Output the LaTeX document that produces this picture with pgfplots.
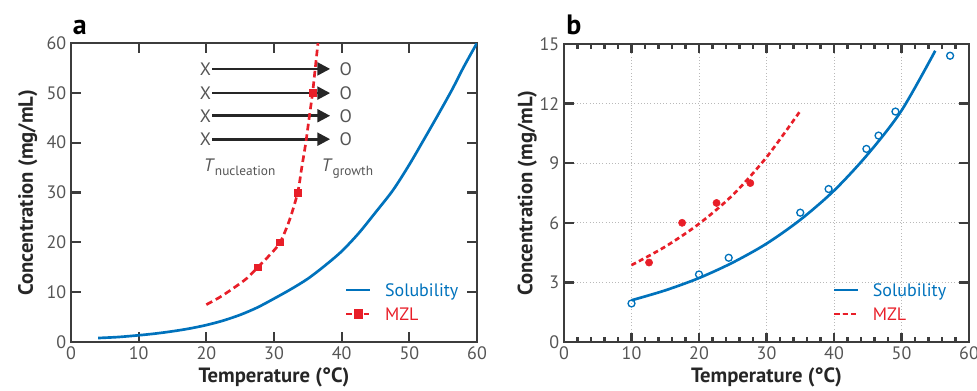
\documentclass[border=0pt]{standalone}
\usepackage{fontspec}
\setmainfont{PT Sans}
\usepackage{pgfplots}
\pgfplotsset{compat=1.18}
\usetikzlibrary{arrows.meta}
\definecolor{myblue}{RGB}{0,114,188}
\definecolor{myred}{RGB}{232,30,40}
\definecolor{axgray}{RGB}{60,60,60}
\definecolor{txtgray}{RGB}{85,85,85}
\tikzset{
  arr/.style={-{Triangle[length=9.5pt,width=9.5pt]}, line width=2pt, black!85},
  xo/.style={text=txtgray, font=\fontsize{13.5}{14}\selectfont},
  tkp/.style={axgray, line width=1.7pt, solid},
}
\pgfplotsset{
  mystyle/.style={
    scale only axis,
    xmin=0, xmax=60, xtick={0,10,...,60},
    axis line style={axgray, line width=1.5pt},
    tick align=inside,
    tick style={axgray, line width=1.7pt},
    tick label style={font=\fontsize{13.5}{15}\selectfont, text=txtgray},
    /pgf/number format/assume math mode=true,
    label style={font=\bfseries\fontsize{15.5}{17}\selectfont, text=black!85},
    xlabel={Temperature (°C)},
    ylabel={Concentration (mg/mL)},
    xlabel style={at={(axis description cs:0.5,-0.137)}, anchor=base},
    legend style={draw=none, fill=none, inner sep=0pt, outer sep=0pt, row sep=7pt,
      nodes={inner sep=1pt, text height=9pt, text depth=0pt, font=\fontsize{13.5}{15}\selectfont},
      /tikz/every odd column/.append style={column sep=9pt}},
    legend cell align=left,
    legend image code/.code={\draw[mark repeat=2,mark phase=2,##1] plot coordinates {(0pt,0pt) (9pt,0pt) (18pt,0pt)};},
  },
}
\begin{document}
\begin{tikzpicture}
% ---------------- panel a ----------------
\begin{axis}[mystyle, at={(53.25pt,-256.5pt)}, anchor=south west,
  width=304.5pt, height=224.25pt,
  ymin=0, ymax=60, ytick={0,10,...,60},
  major tick length=7.5pt,
  ylabel style={at={(axis description cs:-0.0936,0.5)}, anchor=base},
  legend style={at={(axis description cs:0.675,0.198)}, anchor=north west}]
% tick marks on all four sides (axis decoration, same places as the axis ticks)
\pgfplotsinvokeforeach{10,20,30,40,50}{
  \addplot[forget plot, tkp] coordinates {(#1,0) (#1,2.0)};
  \addplot[forget plot, tkp] coordinates {(#1,60) (#1,58.0)};
  \addplot[forget plot, tkp] coordinates {(0,#1) (1.48,#1)};
  \addplot[forget plot, tkp] coordinates {(60,#1) (58.52,#1)};
}
\draw[arr] (axis cs:20.9,54.8) -- (axis cs:38.3,54.8);
\draw[arr] (axis cs:20.9,49.95) -- (axis cs:38.3,49.95);
\draw[arr] (axis cs:20.9,45.4) -- (axis cs:38.3,45.4);
\draw[arr] (axis cs:20.9,40.7) -- (axis cs:38.3,40.7);
\node[xo] at (axis cs:19.85,54.8) {X};
\node[xo] at (axis cs:19.85,49.95) {X};
\node[xo] at (axis cs:19.85,45.4) {X};
\node[xo] at (axis cs:19.85,40.7) {X};
\node[xo] at (axis cs:40.6,54.8) {O};
\node[xo] at (axis cs:40.6,49.95) {O};
\node[xo] at (axis cs:40.6,45.4) {O};
\node[xo] at (axis cs:40.6,40.7) {O};
\node[xo, anchor=base west, inner sep=0pt] at (axis cs:19.6,34.2) {\textit{T}\raisebox{-3pt}{\fontsize{10}{11}\selectfont nucleation}};
\node[xo, anchor=base west, inner sep=0pt] at (axis cs:37.0,34.2) {\textit{T}\raisebox{-3pt}{\fontsize{10}{11}\selectfont growth}};
\addplot[myblue, line width=2pt, smooth] coordinates {
 (4,0.8) (7,1.0) (10,1.35) (12.5,1.7) (15,2.15) (17.5,2.7) (20,3.4) (22.5,4.3)
 (25,5.45) (27.5,6.9) (30,8.7) (32.5,10.6) (35,12.7) (37.5,15.3) (40,18.2)
 (42.5,21.8) (45,26.0) (47.6,30.5) (50,35.6) (52.1,40.5) (54,45) (56.3,50.6) (58,55.1) (60,60)};
\addlegendentry{\textcolor{myblue}{Solubility}}
\addplot[forget plot, myred, line width=2pt, dash pattern=on 5pt off 3pt, smooth] coordinates {
 (20,7.5) (22,9.0) (24,10.8) (26,12.8) (27.6,15) (29.4,17.5) (30.9,20) (32.3,24.5)
 (33.5,30) (34.1,35) (34.7,40) (35.2,45) (35.7,50) (36.1,55) (36.5,60)};
\addplot[forget plot, only marks, mark=square*, mark size=2.5pt, myred] coordinates {
 (27.6,15) (30.9,20) (33.5,30) (35.7,50)};
\addlegendimage{myred, line width=2pt, dash pattern=on 4pt off 2.5pt, mark=square*, mark size=2.5pt, mark options={solid}}
\addlegendentry{\textcolor{myred}{MZL}}
\end{axis}
% ---------------- panel b ----------------
\begin{axis}[mystyle, at={(423pt,-256.5pt)}, anchor=south west,
  width=303.75pt, height=223.5pt,
  ymin=0, ymax=15, ytick={0,3,...,15},
  minor x tick num=4,
  major tick length=6.5pt, minor tick length=3.5pt,
  grid=major, grid style={dotted, gray!55, line width=0.6pt},
  ylabel style={at={(axis description cs:-0.078,0.5)}, anchor=base},
  legend style={at={(axis description cs:0.664,0.199)}, anchor=north west}]
% tick marks (axis decoration)
\pgfplotsinvokeforeach{10,20,30,40,50}{
  \addplot[forget plot, tkp] coordinates {(#1,0) (#1,0.44)};
  \addplot[forget plot, tkp] coordinates {(#1,15) (#1,14.56)};
}
\pgfplotsinvokeforeach{2,4,6,8,12,14,16,18,22,24,26,28,32,34,36,38,42,44,46,48,52,54,56,58}{
  \addplot[forget plot, tkp] coordinates {(#1,0) (#1,0.235)};
  \addplot[forget plot, tkp] coordinates {(#1,15) (#1,14.765)};
}
\pgfplotsinvokeforeach{3,6,9,12}{
  \addplot[forget plot, tkp] coordinates {(0,#1) (1.48,#1)};
  \addplot[forget plot, tkp] coordinates {(60,#1) (58.52,#1)};
}
\addplot[myblue, line width=2pt, smooth] coordinates {
 (10,2.1) (15,2.6) (20,3.22) (25,4.0) (30,4.95) (35,6.15) (40,7.62) (45,9.45) (50,11.65) (55,14.66)};
\addlegendentry{\textcolor{myblue}{Solubility}}
\addplot[myred, line width=2pt, dash pattern=on 3.75pt off 2.5pt, smooth] coordinates {
 (10,3.87) (15,4.8) (20,5.95) (25,7.4) (30,9.3) (35,11.63)};
\addlegendentry{\textcolor{myred}{MZL}}
\addplot[forget plot, only marks, mark=o, mark size=2.6pt, mark options={line width=1pt}, myblue] coordinates {
 (10,1.94) (20,3.4) (24.4,4.24) (35,6.51) (39.2,7.7) (44.8,9.72) (46.6,10.39) (49.1,11.6) (57.2,14.41)};
\addplot[forget plot, only marks, mark=*, mark size=2.7pt, myred] coordinates {
 (12.6,4.0) (17.5,6.0) (22.6,7.0) (27.6,8.0)};
\end{axis}
\node[anchor=base west, font=\bfseries\fontsize{21}{23}\selectfont, inner sep=0pt] at (54.5pt,-25.7pt) {a};
\node[anchor=base west, font=\bfseries\fontsize{21}{23}\selectfont, inner sep=0pt] at (424.5pt,-25.7pt) {b};
\pgfresetboundingbox
\useasboundingbox (0,0) rectangle (732.75pt,-292.5pt);
\end{tikzpicture}
\end{document}
